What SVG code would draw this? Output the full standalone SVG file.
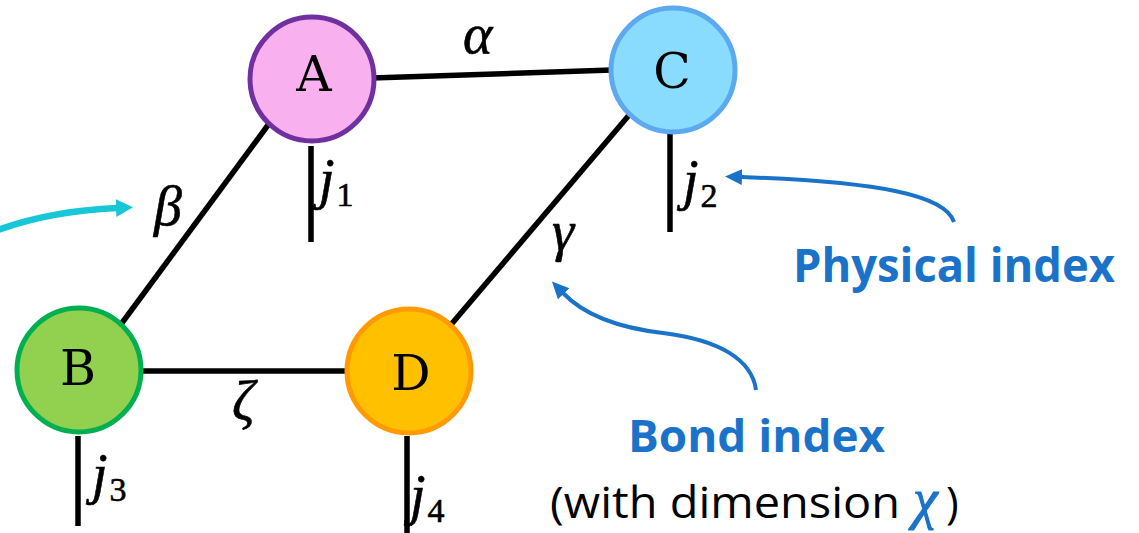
<svg xmlns="http://www.w3.org/2000/svg" width="1139" height="533" viewBox="0 0 1139 533">
<style>
.edge{stroke:#000;stroke-width:5.5;fill:none;stroke-linecap:butt}
.node{stroke-width:5}
.lbl{font-family:"DejaVu Serif",serif;font-size:49px;fill:#000;text-anchor:middle}
.m{font-family:"Liberation Serif",serif;font-style:italic;font-size:56px;fill:#000;stroke:#000;stroke-width:0.6}
.sub{font-style:normal;font-size:34px}
.blue{font-family:"Open Sans","Noto Sans",sans-serif;font-weight:bold;fill:#1A73C9}
.plain{font-family:"Open Sans","Noto Sans",sans-serif;fill:#000}
.barrow{stroke:#1A73C9;stroke-width:4;fill:none}
.carrow{stroke:#17C7D7;stroke-width:6.5;fill:none}
</style>
<defs>
<marker id="hb" markerUnits="userSpaceOnUse" markerWidth="18" markerHeight="17" refX="1" refY="8" orient="auto" viewBox="0 0 18 17">
<path d="M0,0 L17,8 L0,16 z" fill="#1A73C9"/>
</marker>
<marker id="hc" markerUnits="userSpaceOnUse" markerWidth="18" markerHeight="20" refX="1" refY="9" orient="auto" viewBox="0 0 18 20">
<path d="M0,0 L17,9 L0,18 z" fill="#17C7D7"/>
</marker>
</defs>
<rect width="1139" height="533" fill="#fff"/>
<g id="connectors">
<line class="edge" x1="372" y1="78" x2="612" y2="70"/>
<line class="edge" x1="271" y1="121" x2="119" y2="327"/>
<line class="edge" x1="630" y1="114" x2="449" y2="327"/>
<line class="edge" x1="140" y1="371" x2="348" y2="371"/>
<line class="edge" x1="311" y1="146" x2="311" y2="242"/>
<line class="edge" x1="670" y1="130" x2="670" y2="232"/>
<line class="edge" x1="78" y1="436" x2="78" y2="526"/>
<line class="edge" x1="407" y1="436" x2="407" y2="533"/>
</g>
<g id="node-A">
<circle class="node" cx="312" cy="79" r="62" fill="#F8B0EE" stroke="#7030A0"/>
<text class="lbl" x="314" y="91">A</text>
</g>
<g id="node-C">
<circle class="node" cx="673" cy="70" r="62" fill="#8ADCFE" stroke="#5CA9F0"/>
<text class="lbl" x="672" y="88">C</text>
</g>
<g id="node-B">
<circle class="node" cx="79" cy="370" r="62" fill="#92D050" stroke="#00B050"/>
<text class="lbl" x="78" y="385">B</text>
</g>
<g id="node-D">
<circle class="node" cx="409" cy="371" r="62" fill="#FFC000" stroke="#FF9A00"/>
<text class="lbl" x="411" y="390">D</text>
</g>
<g id="labels">
<text class="m" x="463" y="53">α</text>
<text class="m" x="154" y="225">β</text>
<text class="m" x="552" y="250">γ</text>
<text class="m" x="232" y="420">ζ</text>
<text class="m" x="319" y="198">j<tspan class="sub" dx="2" dy="8">1</tspan></text>
<text class="m" x="683" y="199">j<tspan class="sub" dx="2" dy="8">2</tspan></text>
<text class="m" x="92" y="493">j<tspan class="sub" dx="2" dy="8">3</tspan></text>
<text class="m" x="410" y="514">j<tspan class="sub" dx="2" dy="8">4</tspan></text>
</g>
<g id="annotations">
<path class="carrow" d="M-2,230 Q50,211 117,208" marker-end="url(#hc)"/>
<path class="barrow" d="M954,222 C945,195 880,182 741,177" marker-end="url(#hb)"/>
<path class="barrow" d="M756,390 C752,360 720,340 663,333 C620,328 585,316 563,293" marker-end="url(#hb)"/>
<text class="blue" x="793" y="282" font-size="47" textLength="322" lengthAdjust="spacingAndGlyphs">Physical index</text>
<text class="blue" x="628" y="452" font-size="45" textLength="257" lengthAdjust="spacingAndGlyphs">Bond index</text>
<text class="plain" x="550" y="518" font-size="43" textLength="350" lengthAdjust="spacingAndGlyphs">(with dimension</text>
<text class="m" x="913" y="518" font-size="58" style="fill:#1A73C9;stroke:#1A73C9;stroke-width:1">χ</text>
<text class="plain" x="946" y="518" font-size="43">)</text>
</g>
</svg>
